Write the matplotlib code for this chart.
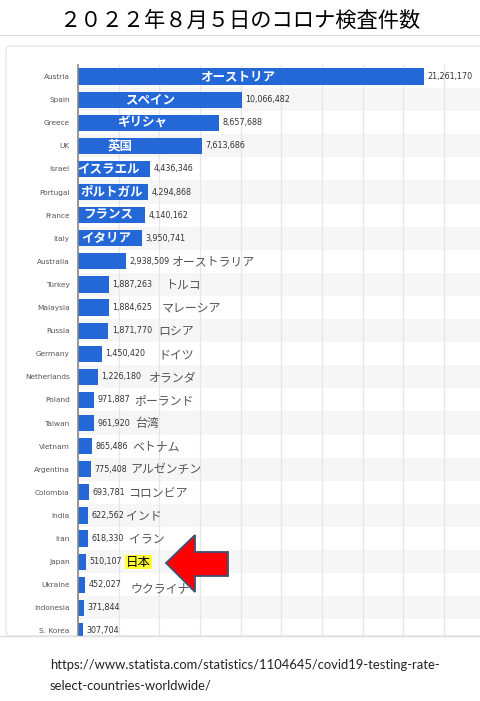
import matplotlib.pyplot as plt
import matplotlib.ticker as mticker
from matplotlib.patches import Polygon, FancyBboxPatch
from matplotlib.lines import Line2D

# Data (Statista, tests as of 5 Aug 2022)
countries = ['Austria', 'Spain', 'Greece', 'UK', 'Israel', 'Portugal', 'France', 'Italy',
             'Australia', 'Turkey', 'Malaysia', 'Russia', 'Germany', 'Netherlands', 'Poland',
             'Taiwan', 'Vietnam', 'Argentina', 'Colombia', 'India', 'Iran', 'Japan',
             'Ukraine', 'Indonesia', 'S. Korea']
tests = [21261170, 10066482, 8657688, 7613686, 4436346, 4294868, 4140162, 3950741,
         2938509, 1887263, 1884625, 1871770, 1450420, 1226180, 971887,
         961920, 865486, 775408, 693781, 622562, 618330, 510107,
         452027, 371844, 307704]
jp_names = ['オーストリア', 'スペイン', 'ギリシャ', '英国', 'イスラエル', 'ポルトガル', 'フランス', 'イタリア',
            'オーストラリア', 'トルコ', 'マレーシア', 'ロシア', 'ドイツ', 'オランダ', 'ポーランド',
            '台湾', 'ベトナム', 'アルゼンチン', 'コロンビア', 'インド', 'イラン', '日本',
            'ウクライナ', '', '']

# pixel x of the japanese labels (center for the white ones, left edge for the rest)
jp_px = [238, 150, 142, 120, 108, 112, 108, 106,
         172, 165, 162, 158, 158, 149, 134,
         135, 132, 131, 128, 126, 129, 126,
         130, 0, 0]
n_inside = 8

W, H = 480, 701
fig = plt.figure(figsize=(W / 100, H / 100), dpi=100)
fig.patch.set_facecolor('white')

ax_left, ax_right, ax_top, ax_bot = 78, 480, 65, 636
ax = fig.add_axes([ax_left / W, 1 - ax_bot / H, (ax_right - ax_left) / W, (ax_bot - ax_top) / H])

px_per_m = 16.26
xmax = (ax_right - ax_left) / px_per_m * 1e6
n = len(countries)
rows = list(range(n))

def px2x(px):
    return (px - ax_left) / px_per_m * 1e6

# card behind the chart
card = FancyBboxPatch((6 / W, 1 - 636 / H), 1.2, (636 - 46) / H,
                      boxstyle='round,pad=0,rounding_size=0.008',
                      transform=fig.transFigure, facecolor='white',
                      edgecolor='#e2e2e2', lw=0.8, zorder=-5)
fig.patches.append(card)
fig.add_artist(Line2D([0, 1], [1 - 35 / H, 1 - 35 / H], transform=fig.transFigure,
                      color='#dcdcdc', lw=0.8))
fig.add_artist(Line2D([0, 1], [1 - 636 / H, 1 - 636 / H], transform=fig.transFigure,
                      color='#dddddd', lw=1.0))

ax.set_facecolor('none')
for i in rows:
    if i % 2 == 1:
        ax.axhspan(i - 0.5, i + 0.5, color='#f6f6f6', lw=0, zorder=0)

ax.barh(rows, tests, height=0.7, color='#2468d8', zorder=3)
ax.set_xlim(0, xmax)
ax.set_ylim(n - 0.78, -0.5)

ax.xaxis.set_major_locator(mticker.MultipleLocator(2.5e6))
ax.grid(axis='x', color='#e6e6e6', lw=0.9, zorder=1)
ax.set_axisbelow(True)
ax.tick_params(axis='x', bottom=False, labelbottom=False)
ax.tick_params(axis='y', left=False, length=0, pad=6)
ax.set_yticks(rows)
ax.set_yticklabels(countries, fontsize=5.3, color='#555555')
for s in ['top', 'right', 'bottom']:
    ax.spines[s].set_visible(False)
ax.spines['left'].set_color('#888888')
ax.spines['left'].set_linewidth(1.2)
ax.spines['left'].set_zorder(4)

# value labels
for i, v in enumerate(tests):
    ax.annotate(f'{v:,}', (v, i), xytext=(2.5, 0), textcoords='offset points',
                ha='left', va='center', fontsize=5.8, color='#333333')

jp_font = ['Noto Sans CJK JP', 'DejaVu Sans']
for i, name in enumerate(jp_names):
    if not name:
        continue
    if i < n_inside:
        ax.text(px2x(jp_px[i]), i, name, ha='center', va='center', fontsize=9,
                fontweight='bold', color='white', family=jp_font, zorder=5)
    elif countries[i] == 'Japan':
        ax.text(px2x(jp_px[i]), i + 0.02, name, ha='left', va='center', fontsize=9,
                color='black', family=jp_font, zorder=5,
                bbox=dict(boxstyle='square,pad=0.05', fc='#ffff33', ec='none'))
    else:
        dy = 0.15 if countries[i] == 'Ukraine' else 0.03
        ax.text(px2x(jp_px[i]), i + dy, name, ha='left', va='center', fontsize=8.6,
                color='#555555', family=jp_font, zorder=5)

# red arrow pointing at Japan
arrow_px = [(166, 563), (195, 535), (195, 552), (228, 552), (228, 576), (195, 576), (195, 592)]
arrow = Polygon([(x / W, 1 - y / H) for x, y in arrow_px], closed=True,
                transform=fig.transFigure, facecolor='#ff0000', edgecolor='#3a5478',
                lw=1.3, zorder=10)
fig.add_artist(arrow)

fig.text(0.5, 1 - 21 / H, '２０２２年８月５日のコロナ検査件数', ha='center', va='center',
         fontsize=15.3, color='black', family=jp_font)

fig.text(50 / W, 1 - 665 / H, 'https://www.statista.com/statistics/1104645/covid19-testing-rate-',
         ha='left', va='center', fontsize=9.4, color='#222222', family='Lato')
fig.text(50 / W, 1 - 685 / H, 'select-countries-worldwide/',
         ha='left', va='center', fontsize=9.4, color='#222222', family='Lato')

fig.savefig('out.png', dpi=100)
